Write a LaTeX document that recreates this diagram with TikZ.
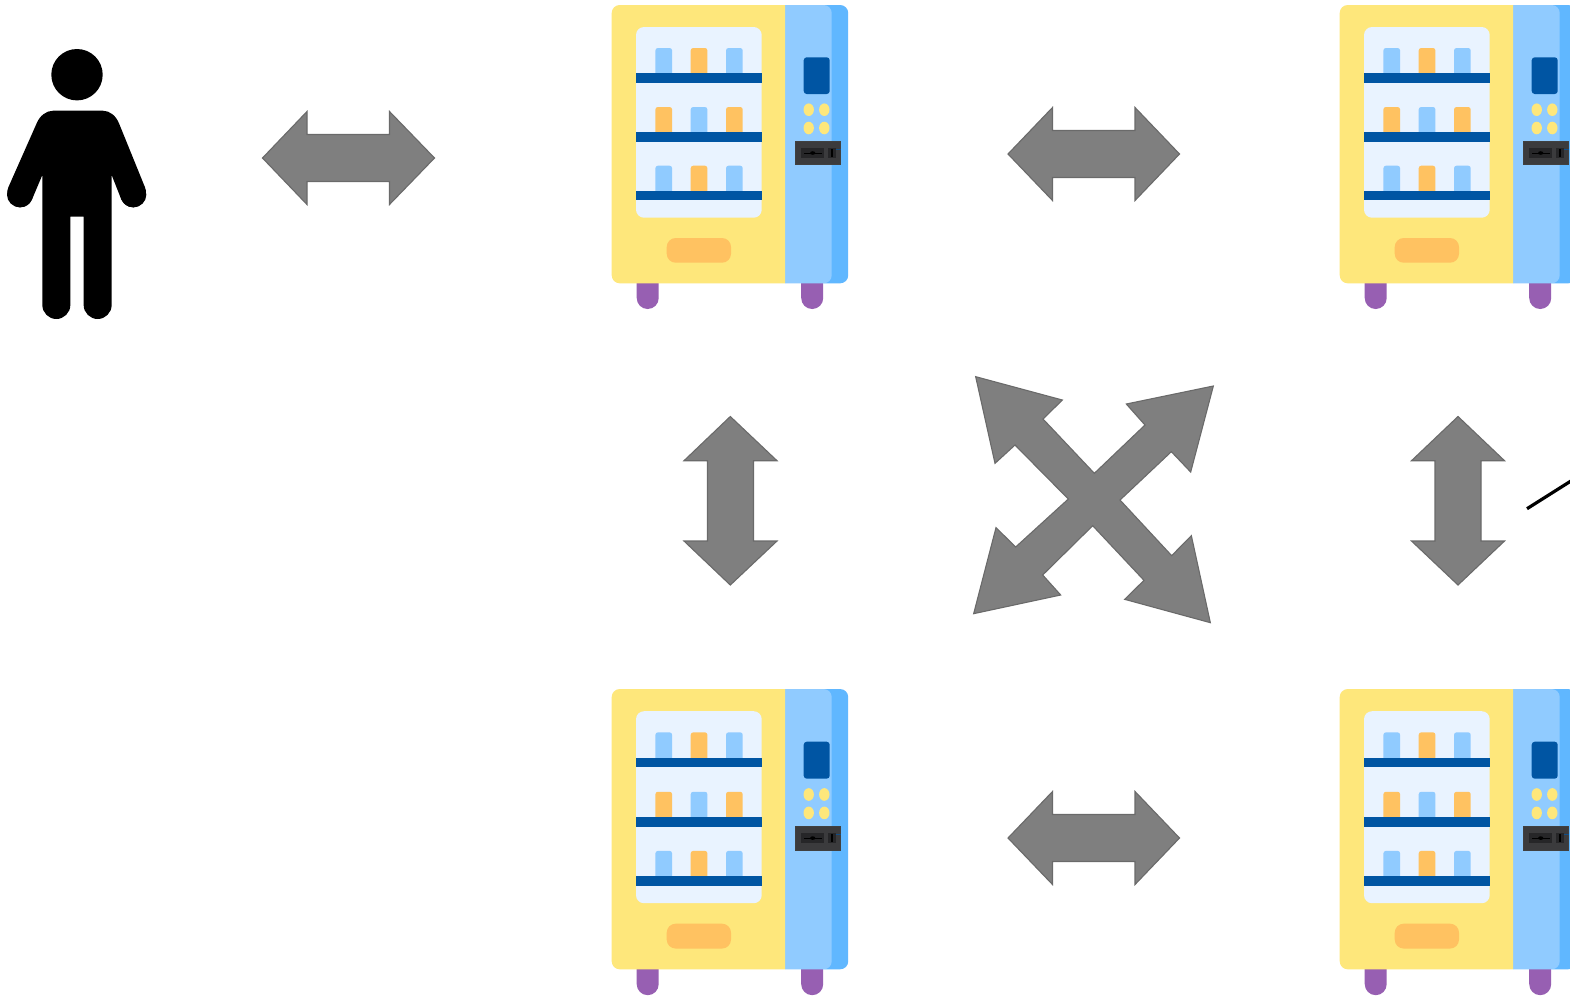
\documentclass[tikz,border=0pt]{standalone}
\definecolor{vyellow}{HTML}{FEE77B}
\definecolor{vblue}{HTML}{90CBFF}
\definecolor{vdeep}{HTML}{60B7FF}
\definecolor{vpanel}{HTML}{E9F3FF}
\definecolor{vbar}{HTML}{0055A3}
\definecolor{vorange}{HTML}{FFC261}
\definecolor{vpurple}{HTML}{975FB2}
\definecolor{vslot}{HTML}{3B3B3D}
\definecolor{vslotin}{HTML}{262628}
\definecolor{agrey}{HTML}{7F7F7F}
\definecolor{aedge}{HTML}{6A6A6A}
\tikzset{
  x=1pt,y=-1pt,
  blockarrow/.style={fill=agrey,draw=aedge,line width=1.1pt,line join=miter},
  bottle/.style={rounded corners=2.5pt},
  pics/vending/.style={code={
    % legs
    \fill[vpurple] (25,275) -- (25,298) arc[start angle=180,end angle=360,x radius=11,y radius=-11] -- (47,275) -- cycle;
    \fill[vpurple] (189.5,275) -- (189.5,298) arc[start angle=180,end angle=360,x radius=11,y radius=-11] -- (211.5,275) -- cycle;
    % body: front, door panel, side strip
    \fill[vdeep,rounded corners=8pt] (205,5) rectangle (236.5,283.3);
    \fill[vblue] (173.3,5) [rounded corners=8pt] -- (220,5) -- (220,283.3) [sharp corners] -- (173.3,283.3) -- cycle;
    \fill[vyellow] (173.3,5) -- (173.3,283.3) [rounded corners=8pt] -- (0,283.3) -- (0,5) [sharp corners] -- cycle;
    % window
    \fill[vpanel,rounded corners=8pt] (24.3,27) rectangle (150,217.7);
    % bottles
    \foreach \ty/\ca/\cb/\cc in {48/vblue/vorange/vblue,107/vorange/vblue/vorange,165.7/vblue/vorange/vblue}{
      \fill[\ca,bottle] (43.7,\ty) rectangle (60.4,\ty+28);
      \fill[\cb,bottle] (79,\ty) rectangle (95.7,\ty+28);
      \fill[\cc,bottle] (114.3,\ty) rectangle (131,\ty+28);
    }
    % shelves
    \fill[vbar] (24.3,73.3) rectangle (150,82.7);
    \fill[vbar] (24.3,132.3) rectangle (150,141.7);
    \fill[vbar] (24.3,191) rectangle (150,200.3);
    % tray
    \fill[vorange,rounded corners=9pt] (55,238) rectangle (119.3,262.7);
    % screen
    \fill[vbar,rounded corners=3pt] (192,57.3) rectangle (218,94);
    % buttons
    \foreach \bx in {197,212.6}\foreach \by in {109.7,128}
      \fill[vyellow] (\bx,\by) ellipse[x radius=5.2,y radius=6.3];
    % coin slot
    \fill[vslot] (183.3,141) rectangle (229.3,165);
    \draw[black!75,line width=.6pt] (183.6,141.3) rectangle (229,164.7);
    \fill[vslotin] (189.3,147.7) rectangle (212.3,158.3);
    \fill[vslotin] (216.6,147.7) rectangle (224,158.3);
    \draw[black,line width=.8pt] (192.3,153) -- (210,153);
    \fill[black] (201,153) ellipse[x radius=2.6,y radius=1.8];
    \fill[black] (219,148.7) rectangle (221.6,157.3);
    \draw[vbar!70!vslot,line width=.7pt] (224,149.7) -- (229.3,149.7);
  }}
}
\begin{document}
\begin{tikzpicture}
\useasboundingbox (0,0) rectangle (1570,997);
\clip (0,0) rectangle (1570,997);
\fill[white] (0,0) rectangle (1570,997);

% vending machines
\pic (m1) at (611.7,0) {vending};
\pic (m2) at (1339.7,0) {vending};
\pic[yscale=1.007] (m3) at (611.7,684) {vending};
\pic[yscale=1.007] (m4) at (1339.7,684) {vending};

% person
\fill[black] (77,74.7) circle[radius=25.7];
\begin{scope}[shift={(0,40)},x=0.33333pt,y=-0.33333pt]
\fill[black] (160,212) -- (308,212)
  .. controls (330,212) and (348,228) .. (357,250)
  -- (435,442)
  .. controls (446,468) and (426,502) .. (400,502)
  .. controls (382,502) and (370,492) .. (363,476)
  -- (335,405) -- (335,795)
  .. controls (335,818) and (316,837) .. (293,837)
  .. controls (270,837) and (251,818) .. (251,795)
  -- (251,530) -- (211,530) -- (211,795)
  .. controls (211,818) and (192,837) .. (169,837)
  .. controls (146,837) and (127,818) .. (127,795)
  -- (127,405) -- (97,476)
  .. controls (90,492) and (78,502) .. (60,502)
  .. controls (34,502) and (14,468) .. (25,442)
  -- (110,250)
  .. controls (119,228) and (138,212) .. (160,212) -- cycle;
\fill[black] (400,464) ellipse[x radius=39,y radius=38];
\fill[black] (60,464) ellipse[x radius=39,y radius=38];
\end{scope}

% horizontal double arrows
\draw[blockarrow] (262.5,158) -- (307,111.5) -- (307,134.5) -- (389.5,134.5) -- (389.5,111.5) -- (434.5,158) -- (389.5,204.5) -- (389.5,181.5) -- (307,181.5) -- (307,204.5) -- cycle;
\draw[blockarrow] (1008,154) -- (1052.5,107.5) -- (1052.5,130.5) -- (1135,130.5) -- (1135,107.5) -- (1179.5,154) -- (1135,200.5) -- (1135,177.5) -- (1052.5,177.5) -- (1052.5,200.5) -- cycle;
\draw[blockarrow] (1008,838) -- (1052.5,791.5) -- (1052.5,814.5) -- (1135,814.5) -- (1135,791.5) -- (1179.5,838) -- (1135,884.5) -- (1135,861.5) -- (1052.5,861.5) -- (1052.5,884.5) -- cycle;

% vertical double arrows
\draw[blockarrow] (730.3,416.5) -- (777,460.7) -- (753.5,460.7) -- (753.5,541) -- (777,541) -- (730.3,585) -- (684,541) -- (707.5,541) -- (707.5,460.7) -- (684,460.7) -- cycle;
\draw[blockarrow] (1458,416.5) -- (1504.5,460.7) -- (1481,460.7) -- (1481,541) -- (1504.5,541) -- (1458,585) -- (1411.5,541) -- (1435,541) -- (1435,460.7) -- (1411.5,460.7) -- cycle;

% crossing arrows
\begin{scope}[shift={(960,360)},x=0.33333pt,y=-0.33333pt]
\draw[blockarrow] (47,50) -- (307,120) -- (249,177) -- (403,340) -- (555,195) -- (499,132) -- (760,78) -- (692,336) -- (634,275) -- (480,420) -- (635,587) -- (694,527) -- (751,788) -- (494,718) -- (552,661) -- (398,497) -- (248,645) -- (302,705) -- (41,761) -- (108,503) -- (167,561) -- (325,417) -- (165,255) -- (105,310) -- cycle;
\end{scope}

% line running off the right edge
\coordinate (lineA) at (1527,508.7);
\coordinate (lineB) at (1575,478.4);
\draw[black,line width=3.2pt] (lineA) -- (lineB);
\end{tikzpicture}
\end{document}
